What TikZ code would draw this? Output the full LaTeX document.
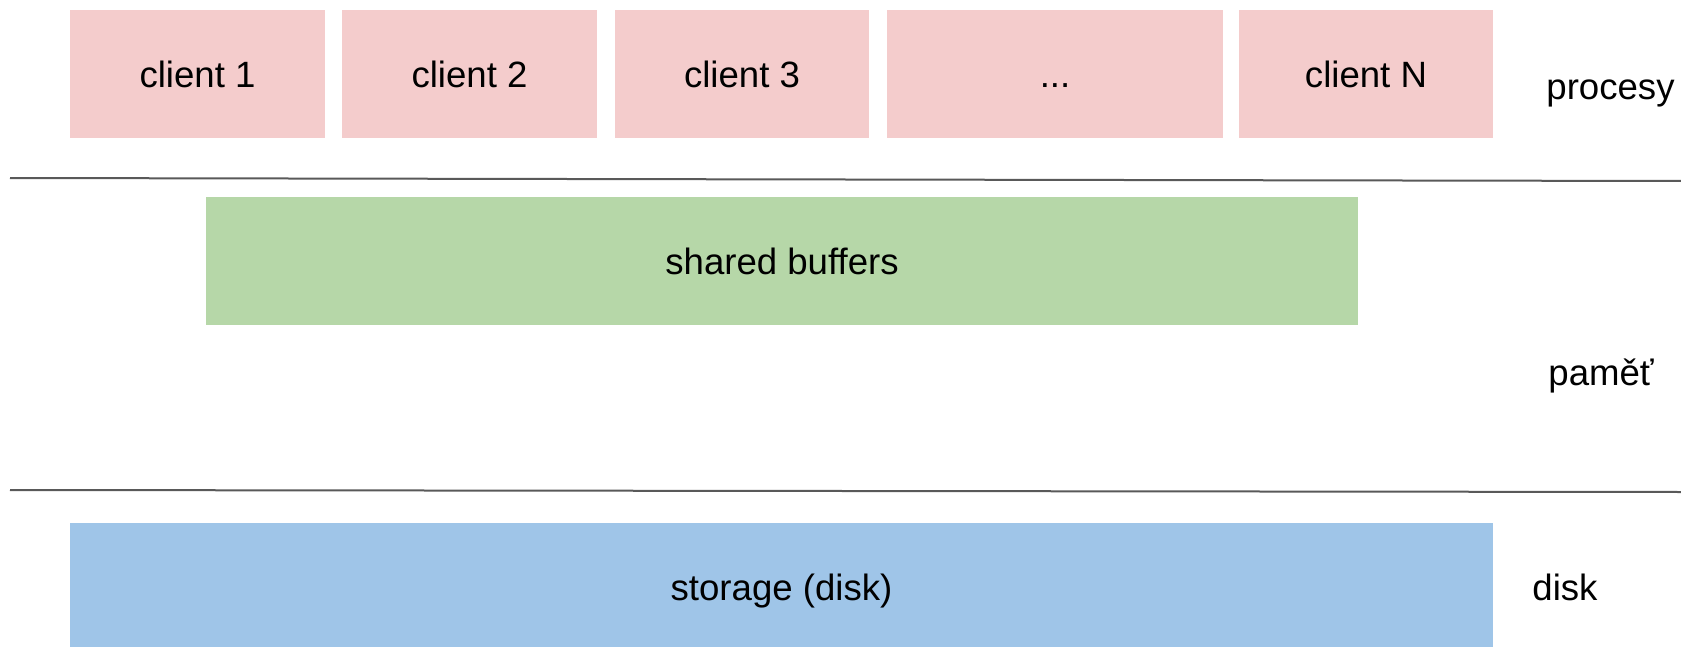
\documentclass[tikz,border=0pt]{standalone}
\usepackage{fontspec}
\setmainfont{Liberation Sans}
\definecolor{procfill}{HTML}{F4CCCC}
\definecolor{memfill}{HTML}{B6D7A8}
\definecolor{diskfill}{HTML}{9FC5E8}
\definecolor{sepline}{HTML}{595959}
\begin{document}
\begin{tikzpicture}[x=0.5pt,y=-0.5pt,
  every node/.style={font=\fontsize{18.3}{22}\selectfont, text=black},
  block/.style={draw=none, inner sep=0pt, text height=13.1pt, text depth=0pt,
    minimum height=64pt},
  proc/.style={block, fill=procfill},
  mem/.style={block, fill=memfill},
  stor/.style={block, fill=diskfill},
  layer/.style={anchor=base west, inner sep=0pt},
  separator/.style={draw=sepline, line width=1pt}]
  \useasboundingbox (0,0) rectangle (1681,647);

  % process layer
  \node[proc, minimum width=127.5pt] (c1) at (197.5,74) {client 1};
  \node[proc, minimum width=127.5pt] (c2) at (469.5,74) {client 2};
  \node[proc, minimum width=127pt]   (c3) at (742,74)   {client 3};
  \node[proc, minimum width=168pt]   (cdots) at (1055,74) {...};
  \node[proc, minimum width=127pt]   (cN) at (1366,74)  {client N};
  \node[layer] (lproc) at (1546,100) {procesy};

  % separators between layers
  \coordinate (s1a) at (10,178);
  \coordinate (s1b) at (1681,181);
  \coordinate (s2a) at (10,490);
  \coordinate (s2b) at (1681,492);
  \draw[separator] (s1a) -- (s1b);
  \draw[separator] (s2a) -- (s2b);

  % memory layer
  \node[mem, minimum width=576pt] (shb) at (782,261) {shared buffers};
  \node[layer] (lmem) at (1548,385) {paměť};

  % disk layer
  \node[stor, minimum width=711.5pt] (sto) at (781.5,587) {storage (disk)};
  \node[layer] (ldisk) at (1532,600) {disk};
\end{tikzpicture}
\end{document}
